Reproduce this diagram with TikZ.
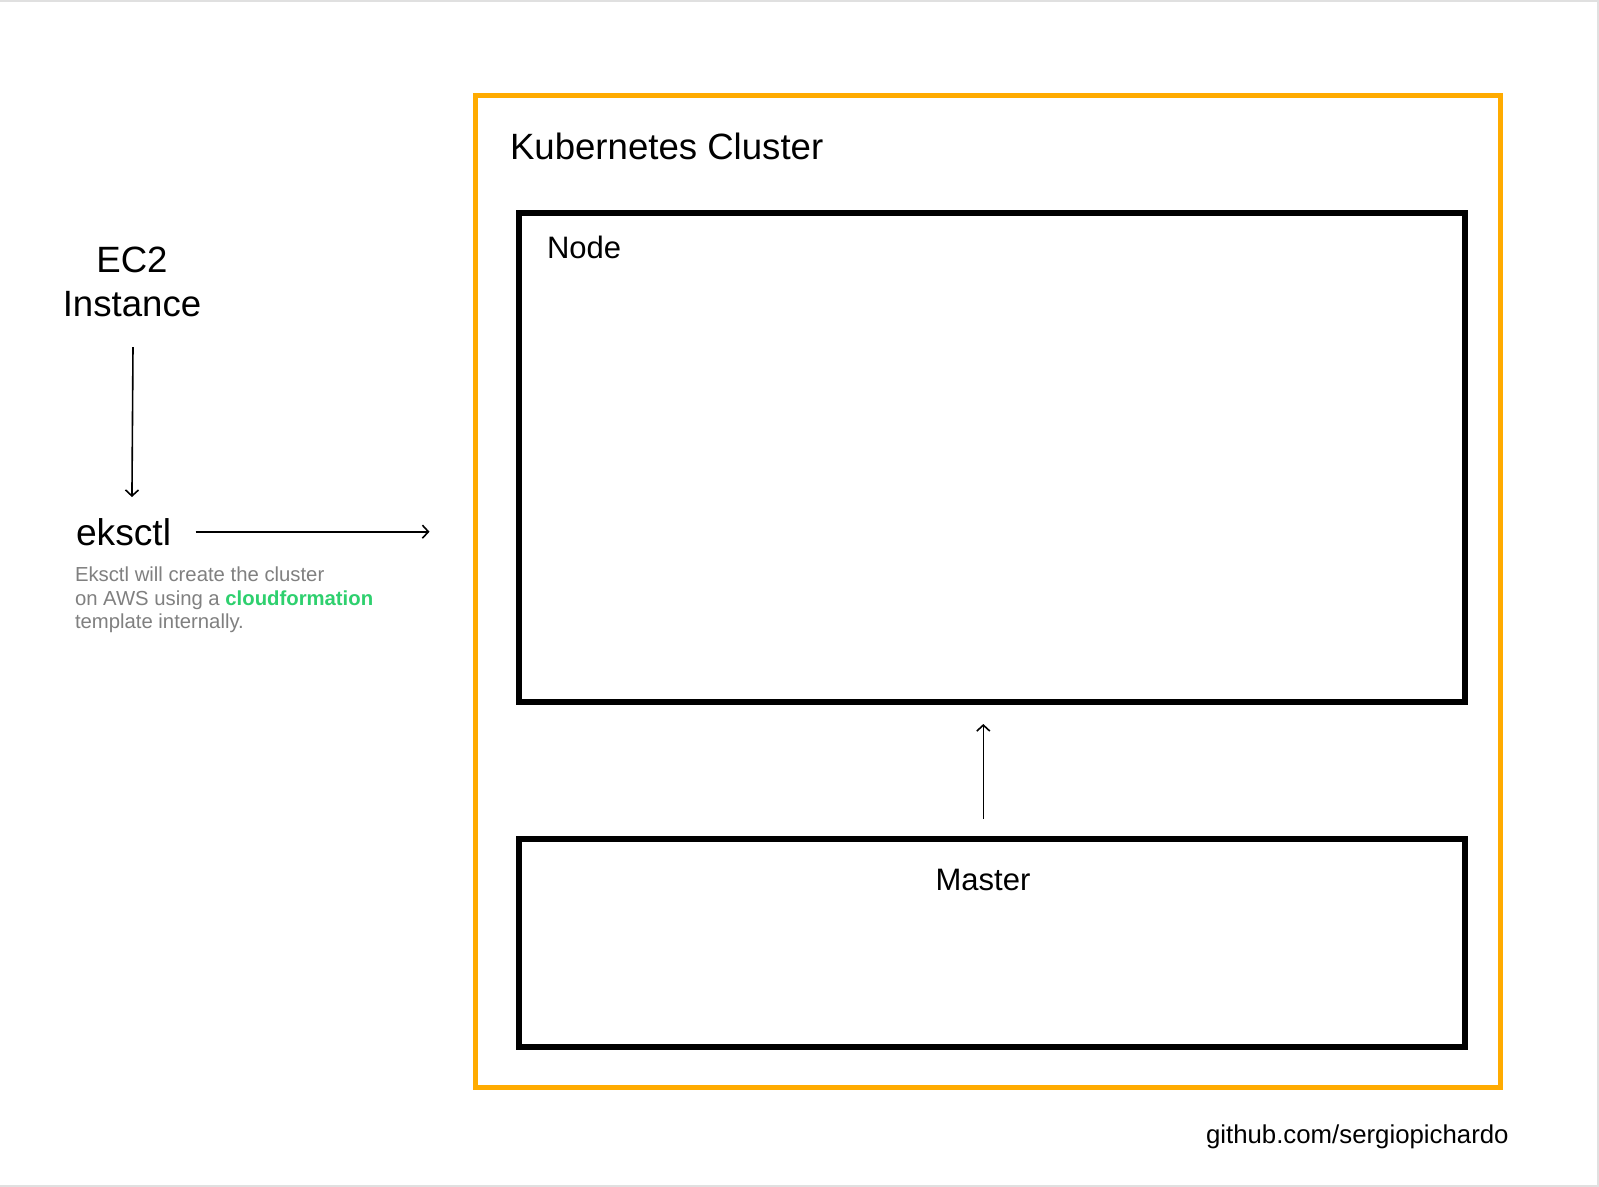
\documentclass[tikz,border=0pt]{standalone}
\usepackage{fontspec}
\setmainfont{Liberation Sans}
\usetikzlibrary{arrows.meta}
\definecolor{clorange}{RGB}{255,171,0}
\definecolor{txtgray}{RGB}{128,128,128}
\definecolor{cfgreen}{RGB}{46,208,110}
\definecolor{framegray}{RGB}{224,224,224}
\tikzset{
  lbl/.style={inner sep=0pt, outer sep=0pt, text=black},
  clusterbox/.style={draw=clorange, line width=2.5pt, inner sep=0pt, outer sep=0pt},
  blackbox/.style={draw=black, line width=3pt, inner sep=0pt, outer sep=0pt},
  arr/.style={draw=black, line width=0.8pt, -{Straight Barb[length=3pt,width=6.5pt]}},
}
\begin{document}
\begin{tikzpicture}[x=0.5pt,y=-0.5pt]
\useasboundingbox (0,0) rectangle (1599,1187);
\fill[white] (0,0) rectangle (1599,1187);
% frame lines
\draw[framegray, line width=1pt] (0,1) -- (1598,1) -- (1598,1186) -- (0,1186);

% boxes
\node[clusterbox, minimum width=1025*0.5pt, minimum height=992*0.5pt, anchor=north west] (cluster) at (475.5,95.5) {};
\node[blackbox, minimum width=946*0.5pt, minimum height=489*0.5pt, anchor=north west] (nodebox) at (518.5,213) {};
\node[blackbox, minimum width=946*0.5pt, minimum height=208*0.5pt, anchor=north west] (master) at (518.5,838.5) {};

% labels
\node[lbl, anchor=base west, font=\fontsize{18.3pt}{22pt}\selectfont] (kc) at (510,160) {Kubernetes Cluster};
\node[lbl, anchor=base west, font=\fontsize{15.5pt}{18pt}\selectfont] (nodelbl) at (547,259) {Node};
\node[lbl, anchor=base, font=\fontsize{15.5pt}{18pt}\selectfont] (masterlbl) at (983,890) {Master};

\node[lbl, align=center, anchor=base, font=\fontsize{18.3pt}{22pt}\selectfont] (ec2) at (132,316.7) {EC2\\Instance};
\node[lbl, anchor=base west, font=\fontsize{18.6pt}{22pt}\selectfont] (eksctl) at (76,545) {eksctl};
\node[lbl, anchor=base west, align=left, text=txtgray, font=\fontsize{10.15pt}{11.65pt}\selectfont] (desc) at (75,628.3)
  {Eksctl will create the cluster\\on AWS using a \textbf{\textcolor{cfgreen}{cloudformation}}\\template internally.};
\node[lbl, anchor=base west, font=\fontsize{12.9pt}{15pt}\selectfont] (gh) at (1206,1143) {github.com/sergiopichardo};

% connectors
\draw[arr] ([xshift=0.5pt,yshift=-15pt]ec2.south) -- ([xshift=4.2pt,yshift=10.5pt]eksctl.north);
\draw[arr, shorten <=12.25pt, shorten >=23pt] (eksctl.east) -- (eksctl.east -| cluster.west);
\draw[arr] ([xshift=-4.1pt,yshift=9.75pt]master.north) -- ([xshift=-4.1pt,yshift=-11pt]nodebox.south);
\end{tikzpicture}
\end{document}
